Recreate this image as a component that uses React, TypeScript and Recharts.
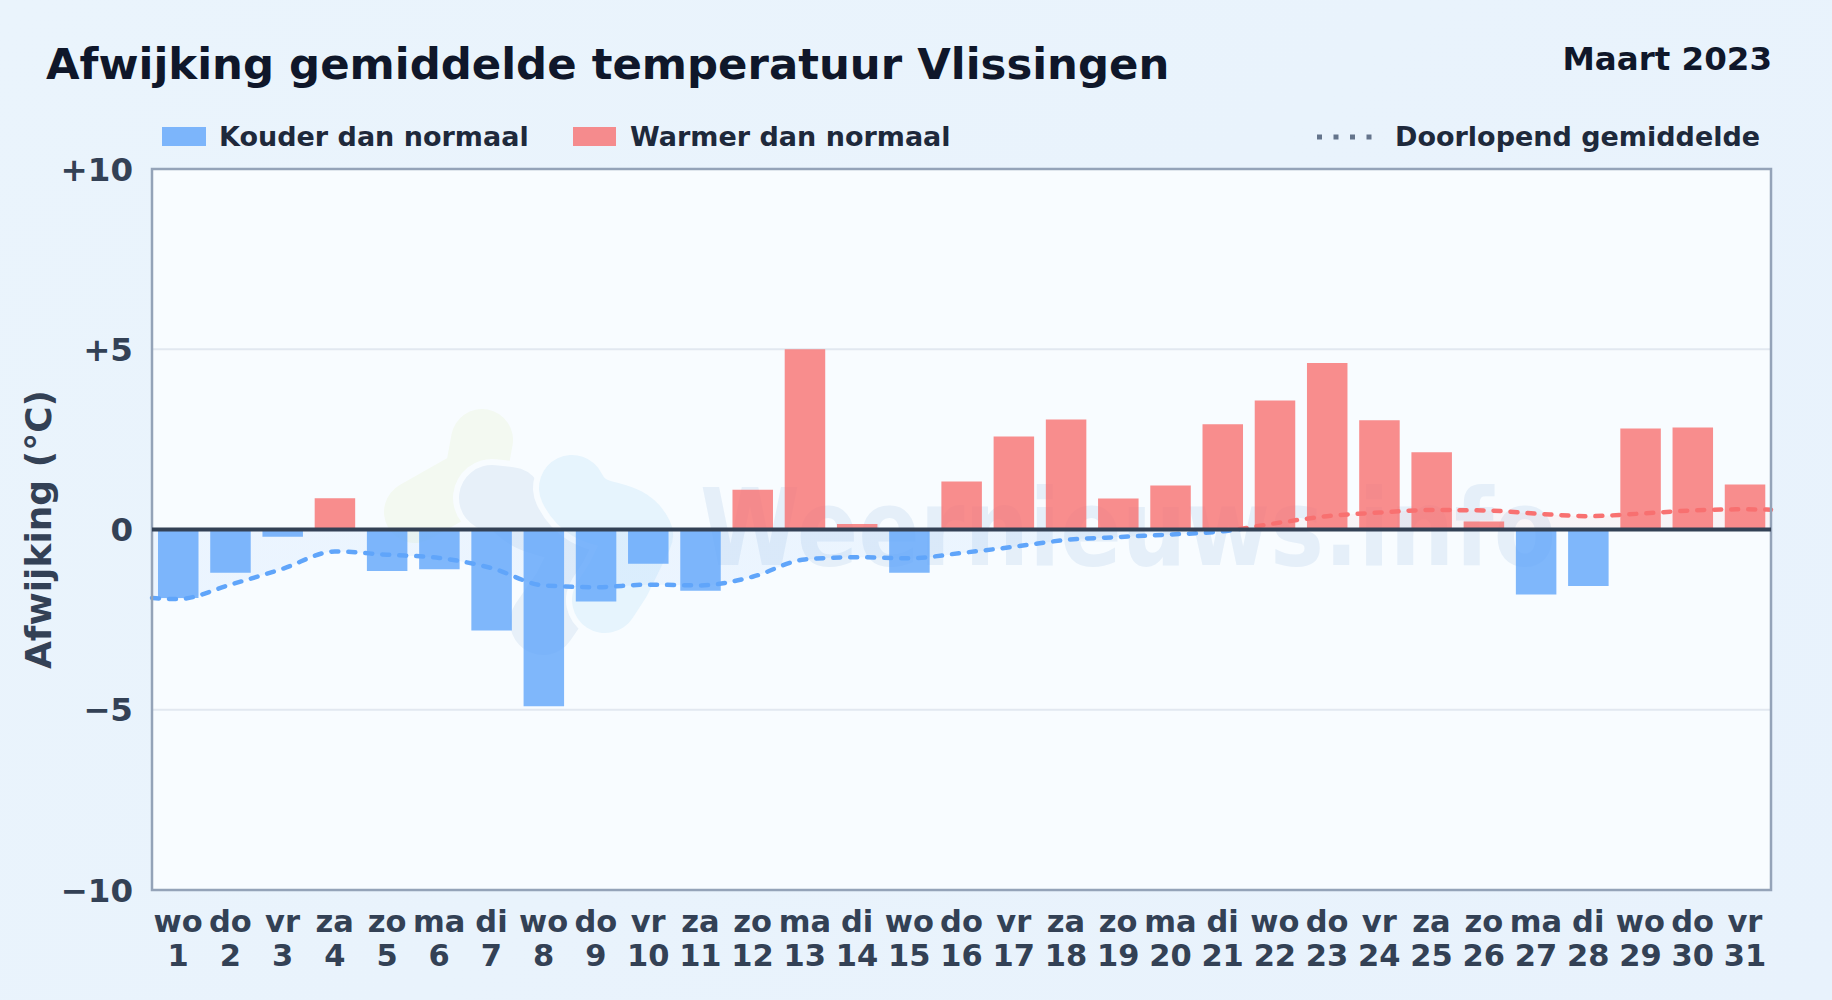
import {
	ComposedChart,
	Bar,
	Area,
	Cell,
	XAxis,
	YAxis,
	CartesianGrid,
	ReferenceLine,
	ReferenceArea,
} from "recharts";

const dayNames = ["wo","do","vr","za","zo","ma","di","wo","do","vr","za","zo","ma","di","wo","do","vr","za","zo","ma","di","wo","do","vr","za","zo","ma","di","wo","do","vr"];
const days = [1,2,3,4,5,6,7,8,9,10,11,12,13,14,15,16,17,18,19,20,21,22,23,24,25,26,27,28,29,30,31];
const deviation = [-1.9,-1.2,-0.2,0.87,-1.15,-1.1,-2.8,-4.9,-2.0,-0.95,-1.7,1.1,5.0,0.15,-1.2,1.33,2.58,3.05,0.86,1.22,2.92,3.58,4.62,3.03,2.14,0.22,-1.8,-1.57,2.8,2.83,1.25];
const running = [-1.93,-1.53,-1.09,-0.61,-0.7,-0.79,-1.07,-1.55,-1.6,-1.53,-1.55,-1.31,-0.83,-0.77,-0.8,-0.65,-0.48,-0.29,-0.21,-0.14,-0.05,0.17,0.37,0.47,0.54,0.53,0.44,0.37,0.44,0.53,0.56];
const runningAtLeftEdge = -1.9;
const runningAtRightEdge = 0.55;
const yTicks = [-10, -5, 0, 5, 10];

const COLD = "#60a5fa";
const WARM = "#f87171";
const FONT = "'DejaVu Sans', sans-serif";
const PLOT_BG = "#f8fcff";

const rows = days.map((day, i) => ({ day, value: deviation[i] }));
// the running mean carries on to the plot edges, half a day past the first and last bar
const runningRows = [
	{ day: 0.5, running: runningAtLeftEdge },
	...days.map((day, i) => ({ day, running: running[i] })),
	{ day: 31.5, running: runningAtRightEdge },
];

// where zero sits inside the running line's bounding box, splits blue from red
const runMax = Math.max(...running);
const runMin = Math.min(...running);
const zeroOffset = `${(runMax / (runMax - runMin)) * 100}%`;

const formatY = (v: number) => (v > 0 ? `+${v}` : v < 0 ? `\u2212${-v}` : "0");

function DayTick({ x, y, payload }: any) {
	const i = days.indexOf(payload.value);
	return (
		<text x={x} textAnchor="middle" fontFamily={FONT} fontWeight={700} fontSize={30.5} fill="#334155">
			<tspan x={x} y={y + 34}>{dayNames[i]}</tspan>
			<tspan x={x} y={y + 68}>{payload.value}</tspan>
		</text>
	);
}

const blobs = [
	{ d: "M482 440 L475 478 L415 512", color: "#f3f9f1", w: 62 },
	{ d: "M492 498 L510 500 C530 530 560 520 590 540 L565 590 L543 622", color: "#e7f0f9", w: 66 },
	{ d: "M572 488 C590 525 625 505 640 535 L618 580 L605 600", color: "#e6f4fd", w: 66 },
];

// faint site watermark behind the plot
function Watermark() {
	return (
		<svg width={1832} height={1000} style={{ position: "absolute", left: 0, top: 0 }}>
			<rect x={152} y={169} width={1619} height={721} fill={PLOT_BG} />
			<g fill="none" strokeLinecap="round" strokeLinejoin="round">
				{blobs.map((b) => (
					<g key={b.d}>
						<path d={b.d} stroke={PLOT_BG} strokeWidth={b.w + 12} />
						<path d={b.d} stroke={b.color} strokeWidth={b.w} />
					</g>
				))}
			</g>
			<text x={700} y={565} fontFamily={FONT} fontWeight={700} fontSize={107} fill="#e5eff9" textLength={856} lengthAdjust="spacingAndGlyphs">
				Weernieuws.info
			</text>
		</svg>
	);
}

const legendText: React.CSSProperties = {
	position: "absolute",
	top: 119,
	fontSize: 27,
	lineHeight: "36px",
	fontWeight: 700,
	color: "#1e293b",
	whiteSpace: "nowrap",
};

export default function App() {
	return (
		<div style={{ position: "absolute", left: 0, top: 0, width: 1832, height: 1000, overflow: "hidden", fontFamily: FONT, background: "linear-gradient(135deg, #eaf4fc, #e8f2fc)" }}>
			<Watermark />
			<div style={{ position: "absolute", left: 46, top: 37, fontSize: 43.4, lineHeight: "54px", fontWeight: 700, color: "#0f172a", whiteSpace: "nowrap" }}>
				Afwijking gemiddelde temperatuur Vlissingen
			</div>
			<div style={{ position: "absolute", right: 60, top: 40, fontSize: 32.5, lineHeight: "38px", fontWeight: 700, color: "#0f172a", whiteSpace: "nowrap" }}>
				Maart 2023
			</div>

			<div style={{ position: "absolute", left: 162, top: 127, width: 44, height: 19, background: COLD, opacity: 0.8 }} />
			<div style={{ ...legendText, left: 219 }}>Kouder dan normaal</div>
			<div style={{ position: "absolute", left: 573, top: 127, width: 43, height: 19, background: WARM, opacity: 0.8 }} />
			<div style={{ ...legendText, left: 630 }}>Warmer dan normaal</div>
			<svg width={60} height={10} style={{ position: "absolute", left: 1315, top: 132 }}>
				<line x1={2} x2={58} y1={5} y2={5} stroke="#64748b" strokeWidth={5} strokeDasharray="5 11.5" />
			</svg>
			<div style={{ ...legendText, left: 1395 }}>Doorlopend gemiddelde</div>

			<div style={{ position: "absolute", left: 0, top: 0 }}>
				<ComposedChart
					width={1832}
					height={1000}
					data={rows}
					margin={{ top: 169, right: 61, bottom: 0, left: 0 }}
				>
					<defs>
						<linearGradient id="runStroke" x1="0" y1="0" x2="0" y2="1">
							<stop offset={zeroOffset} stopColor={WARM} />
							<stop offset={zeroOffset} stopColor={COLD} />
						</linearGradient>
						<linearGradient id="runFill" x1="0" y1="0" x2="0" y2="1">
							<stop offset={zeroOffset} stopColor={WARM} stopOpacity={0.1} />
							<stop offset={zeroOffset} stopColor={COLD} stopOpacity={0.14} />
						</linearGradient>
					</defs>
					<CartesianGrid vertical={false} stroke="#e2e8f0" strokeWidth={2} />
					<XAxis
						dataKey="day"
						type="number"
						domain={[0.5, 31.5]}
						ticks={days}
						interval={0}
						height={110}
						axisLine={false}
						tickLine={false}
						tick={<DayTick />}
					/>
					{/* own axis so the half-day edge points don't shrink the bar band */}
					<XAxis xAxisId="running" dataKey="day" type="number" domain={[0.5, 31.5]} hide />
					<YAxis
						type="number"
						domain={[-10, 10]}
						ticks={yTicks}
						interval={0}
						width={152}
						axisLine={false}
						tickLine={false}
						tickMargin={13}
						tickFormatter={formatY}
						tick={{ fontFamily: FONT, fontWeight: 700, fontSize: 32.5, fill: "#334155" }}
						label={{
							value: "Afwijking (°C)",
							angle: -90,
							position: "insideLeft",
							offset: 38,
							style: { fontFamily: FONT, fontWeight: 700, fontSize: 36, fill: "#334155", textAnchor: "middle" },
						}}
					/>
					<Area
						xAxisId="running"
						data={runningRows}
						dataKey="running"
						type="monotone"
						stroke="none"
						fill="url(#runFill)"
						isAnimationActive={false}
						dot={false}
						activeDot={false}
					/>
					<Bar dataKey="value" barSize={40.5} isAnimationActive={false}>
						{rows.map((r) => (
							<Cell key={r.day} fill={r.value < 0 ? COLD : WARM} fillOpacity={0.8} />
						))}
					</Bar>
					<Area
						xAxisId="running"
						data={runningRows}
						dataKey="running"
						type="monotone"
						stroke="url(#runStroke)"
						strokeWidth={4.5}
						strokeDasharray="7 10"
						strokeLinecap="round"
						fill="none"
						isAnimationActive={false}
						dot={false}
						activeDot={false}
					/>
					<ReferenceLine y={0} stroke="#334155" strokeWidth={4} />
					<ReferenceArea x1={0.5} x2={31.5} y1={-10} y2={10} fill="none" stroke="#94a3b8" strokeWidth={2.5} />
				</ComposedChart>
			</div>
		</div>
	);
}
